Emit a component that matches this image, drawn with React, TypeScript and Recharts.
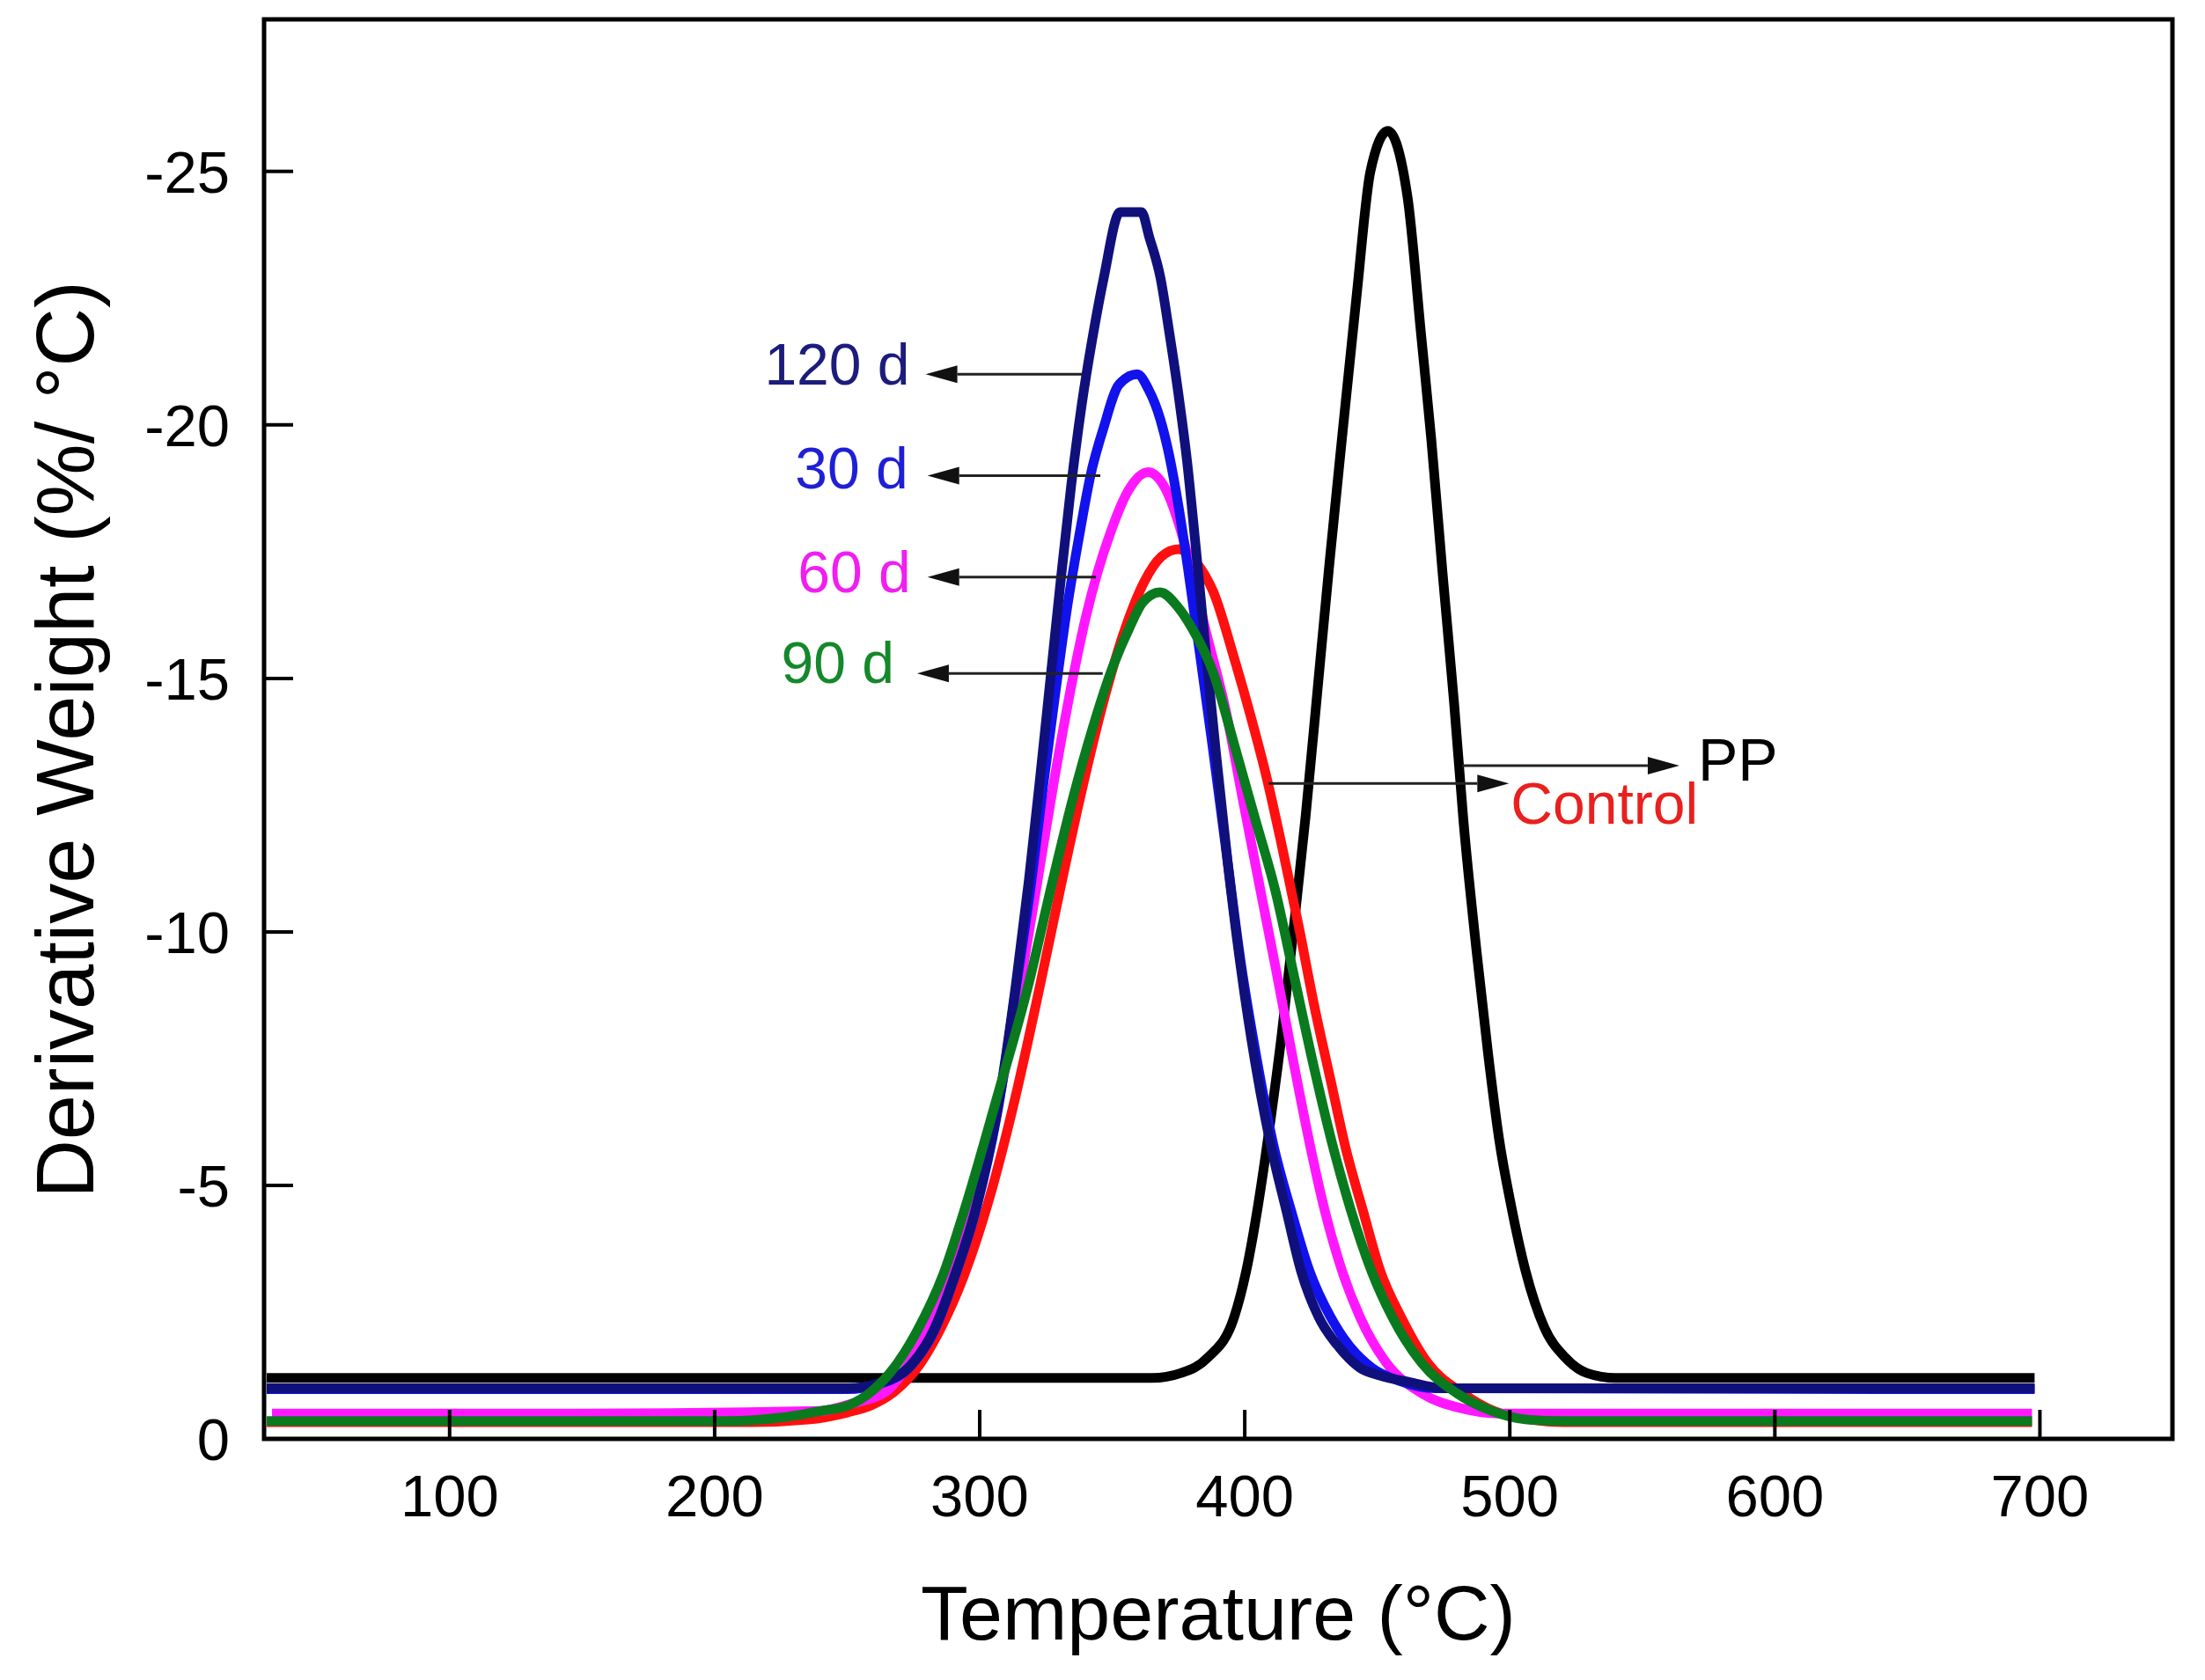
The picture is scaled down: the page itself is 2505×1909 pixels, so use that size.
import React from 'react';
import { LineChart, Line, XAxis, YAxis, ReferenceLine, ReferenceArea, Label } from 'recharts';

const FONT = '"Liberation Sans", Arial, Helvetica, sans-serif';

// axis ticks
const xTicks = [100, 200, 300, 400, 500, 600, 700];
const yTicks = [-25, -20, -15, -10, -5, 0];

// PP (neat polypropylene)
const ppTemp = [31, 150, 300, 355, 365, 376, 386, 396, 400.5, 405, 409.5, 414, 418.5, 423, 427.5, 432, 437, 442.3, 447.4, 454, 461.4, 466.5, 470.4, 474.6, 479, 482.5, 487.5, 491.8, 496, 500.5, 506, 513, 521, 529, 540, 600, 698];
const ppDeriv = [-1.2, -1.2, -1.2, -1.2, -1.2, -1.3, -1.6, -2.4, -3.3, -4.6, -6.2, -8.0, -10.1, -12.3, -14.8, -17.3, -19.9, -22.6, -25.0, -25.8, -24.5, -21.8, -19.7, -17.1, -14.5, -12.2, -9.6, -7.6, -5.9, -4.6, -3.3, -2.2, -1.6, -1.3, -1.2, -1.2, -1.2];

// Control
const ctrlTemp = [31, 150, 215, 235, 250, 259, 268, 277, 285, 294, 303, 313.5, 322.5, 331, 339, 347, 355, 362, 368.5, 375, 381.5, 388.2, 396, 402, 408, 414, 420.4, 426, 432.5, 438, 444.6, 451.2, 459, 469, 482.3, 494, 508, 520, 697];
const ctrlDeriv = [-0.33, -0.33, -0.33, -0.38, -0.52, -0.66, -0.94, -1.44, -2.15, -3.21, -4.63, -6.75, -8.88, -11.0, -12.9, -14.6, -16.0, -16.9, -17.4, -17.55, -17.3, -16.7, -15.4, -14.3, -13.1, -11.7, -10.1, -8.6, -7.05, -5.75, -4.5, -3.3, -2.4, -1.5, -0.9, -0.55, -0.38, -0.33, -0.33];

// 30 days
const d30Temp = [31, 150, 250, 262, 274, 283, 290.6, 299, 307.7, 313.7, 319.5, 324, 328.5, 333, 337.5, 342, 346.5, 352.6, 359.4, 363.7, 368.2, 371.5, 375, 378.5, 382.5, 387.5, 393, 398.5, 404.5, 410.8, 417.5, 424.5, 432.4, 440, 448, 458, 472, 698];
const d30Deriv = [-0.98, -0.98, -0.98, -1.08, -1.44, -2.15, -3.2, -4.6, -6.75, -8.9, -11.0, -12.9, -14.7, -16.4, -17.8, -19.05, -19.9, -20.8, -21.0, -20.7, -20.1, -19.4, -18.4, -17.2, -15.7, -13.8, -11.6, -9.4, -7.5, -5.8, -4.5, -3.3, -2.4, -1.8, -1.4, -1.15, -1.0, -0.98];

// 60 days
const d60Temp = [33, 150, 240, 252, 264.9, 272.7, 280.4, 288.8, 297.1, 307.5, 315, 321.8, 327.8, 335.5, 340, 344.5, 349.5, 356, 363.5, 370, 376, 380, 385, 392.7, 399.3, 406, 412, 418.5, 425, 430.2, 436.8, 443.5, 453.4, 466.7, 482, 496, 697];
const d60Deriv = [-0.5, -0.5, -0.55, -0.7, -0.94, -1.44, -2.15, -3.21, -4.63, -6.75, -8.88, -11.0, -12.9, -15.1, -16.2, -17.1, -17.9, -18.7, -19.07, -18.75, -17.9, -17.1, -16.0, -14.4, -12.6, -10.8, -9.2, -7.4, -5.7, -4.5, -3.3, -2.4, -1.5, -0.9, -0.6, -0.5, -0.5];

// 90 days
const d90Temp = [31, 150, 205, 225, 240, 250.4, 259.3, 268.2, 276.6, 286, 294.9, 306.6, 318, 327.5, 335, 342.5, 350, 356.5, 361.5, 368, 374.9, 380, 388.2, 396, 403.8, 411.6, 418.1, 425.8, 433.6, 440.1, 447.9, 455.7, 466.7, 480, 493.3, 506.6, 520, 697];
const d90Deriv = [-0.35, -0.35, -0.35, -0.42, -0.55, -0.66, -0.94, -1.44, -2.15, -3.21, -4.63, -6.75, -8.88, -11.0, -12.6, -14.0, -15.2, -16.0, -16.5, -16.7, -16.4, -16.0, -15.1, -13.7, -12.25, -10.8, -9.25, -7.4, -5.7, -4.5, -3.3, -2.4, -1.5, -0.9, -0.55, -0.38, -0.35, -0.35];

// 120 days
const d120Temp = [31, 150, 250, 262, 273.8, 282.7, 290.4, 298.8, 307.5, 313.5, 318.5, 322.5, 326.5, 330.5, 334.5, 338.5, 342.5, 346.8, 353, 361, 364, 368.2, 371.6, 375, 378.2, 381.5, 385, 389, 393.5, 398.5, 404, 410, 415.7, 421.3, 427.9, 435.7, 443.5, 451, 462, 475, 698];
const d120Deriv = [-1.0, -1.0, -1.0, -1.1, -1.44, -2.15, -3.2, -4.6, -6.75, -8.9, -11.0, -12.9, -14.9, -16.9, -18.8, -20.4, -21.7, -22.9, -24.2, -24.2, -23.7, -22.9, -21.8, -20.6, -19.3, -17.6, -15.7, -13.6, -11.4, -9.3, -7.4, -5.75, -4.5, -3.3, -2.4, -1.8, -1.4, -1.25, -1.12, -1.0, -1.0];

// arrow annotations: label, tail (on curve) and tip, in data units
const noteText = ['120 d', '30 d', '60 d', '90 d', 'Control', 'PP'];
const noteTail = [[338.8, -21.0], [345.5, -19.0], [343.9, -17.0], [346.4, -15.1], [409, -12.93], [482, -13.28]];
const noteTip = [[279.6, -21.0], [280.3, -19.0], [280.3, -17.0], [276.4, -15.1], [499.7, -12.93], [564, -13.28]];

const noteStyle = [
  { color: '#1c1c7c', size: 66, anchor: 'end', dx: -18, dy: 12 },
  { color: '#1f1fd8', size: 66, anchor: 'end', dx: -22, dy: 15 },
  { color: '#f01ef0', size: 66, anchor: 'end', dx: -19, dy: 17 },
  { color: '#14882a', size: 66, anchor: 'end', dx: -26, dy: 11 },
  { color: '#e8201e', size: 66, anchor: 'start', dx: 2, dy: 46 },
  { color: '#000000', size: 68, anchor: 'start', dx: 21, dy: 17 },
];

const zip = (t: number[], w: number[]) => t.map((v, i) => ({ t: v, w: w[i] }));

// drawn bottom to top
const series = [
  { name: 'PP', data: zip(ppTemp, ppDeriv), color: '#000000' },
  { name: 'Control', data: zip(ctrlTemp, ctrlDeriv), color: '#ff1010' },
  { name: '60 d', data: zip(d60Temp, d60Deriv), color: '#ff18ff' },
  { name: '30 d', data: zip(d30Temp, d30Deriv), color: '#1212ec' },
  { name: '120 d', data: zip(d120Temp, d120Deriv), color: '#10107c' },
  { name: '90 d', data: zip(d90Temp, d90Deriv), color: '#0a7a1e' },
];

const arrowShape = (i: number) => (p: any) => {
  const { x1, y1, x2, y2 } = p;
  const ang = Math.atan2(y2 - y1, x2 - x1);
  const len = 36;
  const half = 10;
  const bx = x2 - len * Math.cos(ang);
  const by = y2 - len * Math.sin(ang);
  const nx = -Math.sin(ang) * half;
  const ny = Math.cos(ang) * half;
  const s = noteStyle[i];
  return (
    <g>
      <line x1={x1} y1={y1} x2={bx} y2={by} stroke="#222" strokeWidth={3} />
      <polygon points={`${x2},${y2} ${bx + nx},${by + ny} ${bx - nx},${by - ny}`} fill="#111" />
      <text x={x2 + s.dx} y={y2 + s.dy} textAnchor={s.anchor} fill={s.color} fontSize={s.size} fontFamily={FONT}>
        {noteText[i]}
      </text>
    </g>
  );
};

export default function App() {
  return (
    <div style={{ position: 'absolute', left: 0, top: 0, width: 2505, height: 1909, background: '#fff' }}>
      <LineChart width={2505} height={1909} margin={{ top: 22, right: 37, bottom: 174, left: 200 }}>
        <XAxis
          dataKey="t"
          type="number"
          domain={[30, 750]}
          ticks={xTicks}
          interval={0}
          allowDataOverflow
          height={100}
          axisLine={false}
          tickSize={-33}
          tickMargin={73}
          tickLine={{ stroke: '#000', strokeWidth: 4 }}
          tick={{ fill: '#000', fontSize: 67, fontFamily: FONT }}
        >
          <Label
            content={({ viewBox }: any) => (
              <text
                x={viewBox.x + viewBox.width / 2}
                y={viewBox.y + viewBox.height + 128}
                textAnchor="middle"
                fontSize={88}
                fontFamily={FONT}
                fill="#000"
              >
                Temperature (°C)
              </text>
            )}
          />
        </XAxis>
        <YAxis
          type="number"
          domain={[-28, 0]}
          reversed
          ticks={yTicks}
          interval={0}
          allowDataOverflow
          width={100}
          axisLine={false}
          tickSize={-33}
          tickMargin={72}
          tickLine={{ stroke: '#000', strokeWidth: 4 }}
          tick={{ fill: '#000', fontSize: 67, fontFamily: FONT }}
        >
          <Label
            content={({ viewBox }: any) => (
              <text
                transform={`translate(${viewBox.x - 94},${viewBox.y + viewBox.height / 2 + 12}) rotate(-90)`}
                textAnchor="middle"
                fontSize={92}
                fontFamily={FONT}
                fill="#000"
              >
                Derivative Weight (%/ °C)
              </text>
            )}
          />
        </YAxis>
        <ReferenceArea
          x1={30}
          x2={750}
          y1={-28}
          y2={0}
          fill="none"
          fillOpacity={0}
          stroke="#000"
          strokeWidth={5}
          ifOverflow="visible"
        />
        {series.map((s) => (
          <Line
            key={s.name}
            data={s.data}
            dataKey="w"
            name={s.name}
            type="monotone"
            stroke={s.color}
            strokeWidth={11}
            dot={false}
            activeDot={false}
            isAnimationActive={false}
          />
        ))}
        {noteText.map((t, i) => (
          <ReferenceLine
            key={t}
            segment={[
              { x: noteTail[i][0], y: noteTail[i][1] },
              { x: noteTip[i][0], y: noteTip[i][1] },
            ]}
            ifOverflow="visible"
            shape={arrowShape(i)}
          />
        ))}
      </LineChart>
    </div>
  );
}
